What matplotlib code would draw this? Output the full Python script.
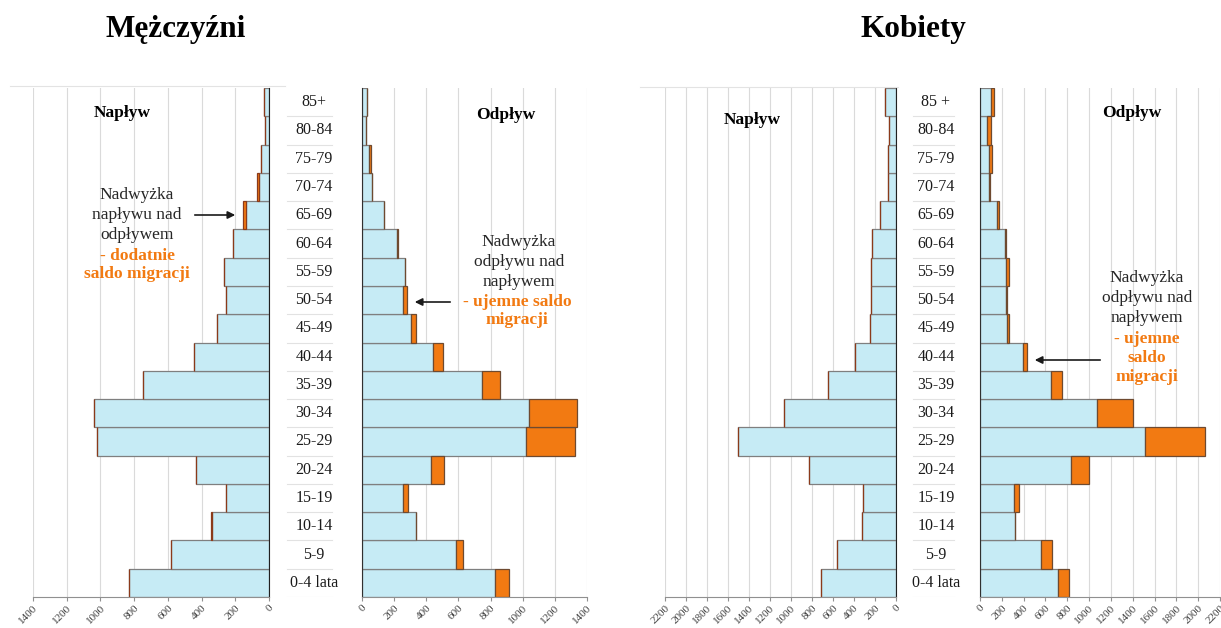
import numpy as np
import matplotlib.pyplot as plt

plt.rcParams['font.family'] = ['Liberation Serif', 'DejaVu Serif']

# age groups, youngest first
ages_m = ['0-4 lata', '5-9', '10-14', '15-19', '20-24', '25-29', '30-34', '35-39',
          '40-44', '45-49', '50-54', '55-59', '60-64', '65-69', '70-74', '75-79',
          '80-84', '85+']
ages_k = ages_m[:-1] + ['85 +']

# men: inflow (napływ) and outflow (odpływ)
men_in = [830, 584, 346, 257, 432, 1020, 1039, 745, 444, 306, 254, 268, 215, 152,
          72, 46, 25, 29]
men_out = [913, 626, 339, 289, 512, 1325, 1339, 857, 502, 337, 283, 268, 225, 137,
           60, 58, 25, 29]
# women
wom_in = [712, 560, 320, 310, 830, 1508, 1070, 647, 393, 249, 235, 240, 228, 152,
          80, 80, 68, 103]
wom_out = [818, 662, 322, 357, 995, 2060, 1401, 751, 433, 262, 247, 262, 237, 177,
           95, 113, 97, 125]

men_ticks = np.arange(0, 1401, 200)
wom_ticks = np.arange(0, 2201, 200)

BLUE = '#C6EBF5'
ORANGE = '#F27A12'
EDGE = '#7F7F7F'
W, H = 1221, 628

fig = plt.figure(figsize=(W / 100, H / 100), dpi=100)


def px_axes(x0, x1, y0, y1):
    return fig.add_axes([x0 / W, 1 - y1 / H, (x1 - x0) / W, (y1 - y0) / H])


def panel(ax, main, other, ticks, inflow):
    y = np.arange(len(main))
    main = np.array(main, float)
    other = np.array(other, float)
    base = np.minimum(main, other)
    extra = np.clip(main - other, 0, None)
    for t in ticks[1:]:
        ax.axvline(t, color='#DADADA', lw=0.8, zorder=0)
    ax.barh(y, base, height=1.0, color=BLUE, edgecolor=EDGE, lw=0.9, zorder=2)
    ax.barh(y, extra, left=base, height=1.0, color=ORANGE,
            edgecolor='#8B3A1A' if inflow else '#6E4A30', lw=0.9, zorder=2)
    ax.set_ylim(-0.5, len(main) - 0.5)
    ax.set_xlim(ticks[-1], 0) if inflow else ax.set_xlim(0, ticks[-1])
    ax.set_xticks(ticks)
    ax.set_xticklabels([str(t) for t in ticks], rotation=45, ha='right',
                       va='top', rotation_mode='anchor', fontsize=8, color='#404040')
    ax.tick_params(axis='x', length=3, color='#909090', pad=1.5)
    ax.set_yticks([])
    ax.spines['top'].set_visible(False)
    ax.spines['bottom'].set_color('#909090')
    if inflow:
        ax.spines['left'].set_visible(False)
        ax.spines['right'].set_color('#202020')
    else:
        ax.spines['right'].set_visible(False)
        ax.spines['left'].set_color('#303030')
    ax.set_facecolor('none')


def labels(x0, x1, y0, y1, ages, cx, lx0, lx1):
    ax = px_axes(x0, x1, y0, y1)
    ax.set_xlim(x0, x1)
    ax.set_ylim(-0.5, len(ages) - 0.5)
    ax.axis('off')
    for i, a in enumerate(ages):
        ax.text(cx, i, a, ha='center', va='center', fontsize=11.5, color='#1A1A1A')
    for i in range(len(ages)):
        ax.plot([lx0, lx1], [i - 0.5, i - 0.5], color='#E2E2E2', lw=0.8)


# men
ax1 = px_axes(33, 269, 88, 597)
panel(ax1, men_in, men_out, men_ticks, True)
ax2 = px_axes(362, 587, 88, 597)
panel(ax2, men_out, men_in, men_ticks, False)
labels(284, 360, 88, 597, ages_m, 314, 287, 332)

# women
ax3 = px_axes(665, 896, 88, 597)
panel(ax3, wom_in, wom_out, wom_ticks, True)
ax4 = px_axes(980, 1220, 88, 597)
panel(ax4, wom_out, wom_in, wom_ticks, False)
labels(898, 978, 88, 597, ages_k, 936, 913, 954)

# light frame lines
fig.add_artist(plt.Line2D([10 / W, 285 / W], [1 - 86 / H] * 2, color='#E3E3E3', lw=0.8))
fig.add_artist(plt.Line2D([640 / W, 898 / W], [1 - 87 / H] * 2, color='#E3E3E3', lw=0.8))


def ftext(x, y, s, **kw):
    fig.text(x / W, 1 - y / H, s, ha='center', va='center', **kw)


ftext(176, 29, 'Mężczyźni', fontsize=22.5, fontweight='bold')
ftext(913, 29, 'Kobiety', fontsize=22.5, fontweight='bold')

ftext(122, 113, 'Napływ', fontsize=12.5, fontweight='bold')
ftext(506, 115, 'Odpływ', fontsize=12.5, fontweight='bold')
ftext(752, 120, 'Napływ', fontsize=12.5, fontweight='bold')
ftext(1132, 113, 'Odpływ', fontsize=12.5, fontweight='bold')

TXT = '#262626'
ftext(137, 215, 'Nadwyżka\nnapływu nad\nodpływem', fontsize=12.5, color=TXT,
      linespacing=1.32)
ftext(137, 265, '- dodatnie\nsaldo migracji', fontsize=12.5, color=ORANGE,
      fontweight='bold', linespacing=1.25)
ftext(519, 262, 'Nadwyżka\nodpływu nad\nnapływem', fontsize=12.5, color=TXT,
      linespacing=1.32)
ftext(517, 311, '- ujemne saldo\nmigracji', fontsize=12.5, color=ORANGE,
      fontweight='bold', linespacing=1.2)
ftext(1147, 298, 'Nadwyżka\nodpływu nad\nnapływem', fontsize=12.5, color=TXT,
      linespacing=1.32)
ftext(1147, 358, '- ujemne\nsaldo\nmigracji', fontsize=12.5, color=ORANGE,
      fontweight='bold', linespacing=1.25)


def arrow(x0, y0, x1, y1):
    fig.add_artist(plt.matplotlib.patches.FancyArrowPatch(
        (x0 / W, 1 - y0 / H), (x1 / W, 1 - y1 / H), transform=fig.transFigure,
        arrowstyle='-|>', mutation_scale=11, lw=1.2, color='#1A1A1A'))


arrow(192, 215, 238, 215)
arrow(453, 302, 412, 302)
arrow(1103, 360, 1032, 360)

fig.savefig('out.png', dpi=100)
